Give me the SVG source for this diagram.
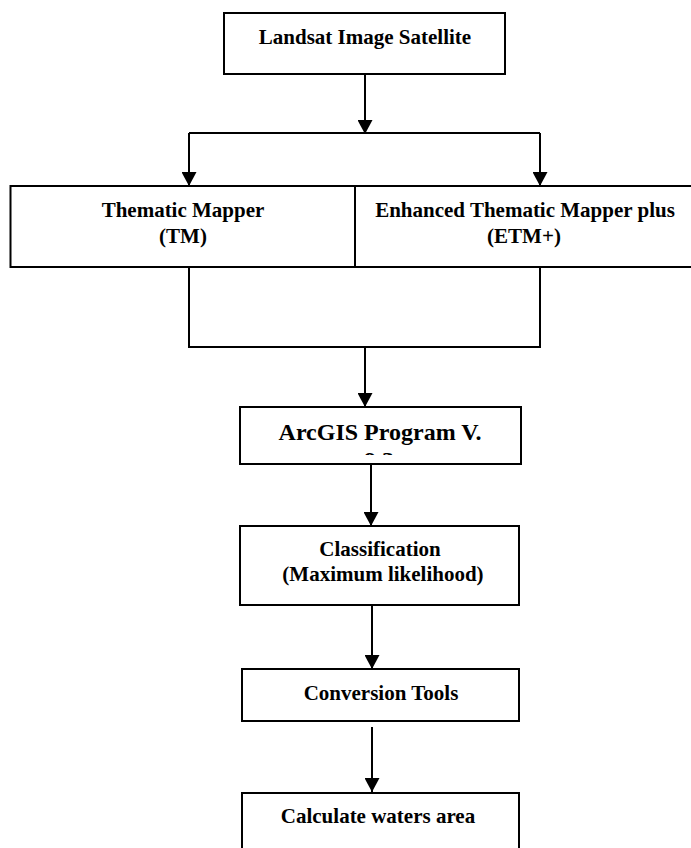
<svg xmlns="http://www.w3.org/2000/svg" width="691" height="848" viewBox="0 0 691 848">
<style>
.box{fill:#fff;stroke:#000;stroke-width:2}
.t{font-family:"Liberation Serif","Times New Roman",serif;font-weight:bold;font-size:21px;fill:#000;text-anchor:middle}
.big{font-size:24px}
.c{fill:none;stroke:#000;stroke-width:2}
</style>
<defs>
<marker id="ah" markerUnits="userSpaceOnUse" markerWidth="15" markerHeight="15" refX="14" refY="7.5" orient="auto" viewBox="0 0 15 15">
<path d="M0,0 L14,7.5 L0,15 z" fill="#000"/>
</marker>
<clipPath id="arcclip"><rect x="240" y="407" width="281" height="48"/></clipPath>
</defs>
<rect width="691" height="848" fill="#fff"/>
<g id="connectors">
<path class="c" d="M365,68 V134" marker-end="url(#ah)"/>
<path class="c" d="M189,133 H540"/>
<path class="c" d="M189,133 V186" marker-end="url(#ah)"/>
<path class="c" d="M540,133 V186" marker-end="url(#ah)"/>
<path class="c" d="M189,267 V347 H540 V267"/>
<path class="c" d="M365,347 V407" marker-end="url(#ah)"/>
<path class="c" d="M371,464 V526" marker-end="url(#ah)"/>
<path class="c" d="M372,605 V669" marker-end="url(#ah)"/>
<path class="c" d="M372,727 V792" marker-end="url(#ah)"/>
</g>
<g id="landsat">
<rect class="box" x="224" y="13" width="281" height="61"/>
<text class="t" x="365" y="44">Landsat Image Satellite</text>
</g>
<g id="tm">
<rect class="box" x="10.5" y="186" width="344.5" height="81"/>
<text class="t" x="183" y="217">Thematic Mapper</text>
<text class="t" x="183" y="243">(TM)</text>
</g>
<g id="etm">
<rect class="box" x="355" y="186" width="340" height="81"/>
<text class="t" x="525" y="217">Enhanced Thematic Mapper plus</text>
<text class="t" x="524" y="243">(ETM+)</text>
</g>
<g id="arcgis">
<rect class="box" x="240" y="407" width="281" height="57"/>
<text class="t big" x="380" y="440">ArcGIS Program V.</text>
<text class="t big" x="379" y="468" clip-path="url(#arcclip)">9.3</text>
</g>
<g id="classification">
<rect class="box" x="240" y="526" width="279" height="79"/>
<text class="t" x="380" y="556">Classification</text>
<text class="t" x="383" y="581">(Maximum likelihood)</text>
</g>
<g id="conversion">
<rect class="box" x="242" y="669" width="277" height="52"/>
<text class="t" x="381" y="700">Conversion Tools</text>
</g>
<g id="calculate">
<rect class="box" x="242" y="793" width="277" height="70"/>
<text class="t" x="378" y="823">Calculate waters area</text>
</g>
</svg>
